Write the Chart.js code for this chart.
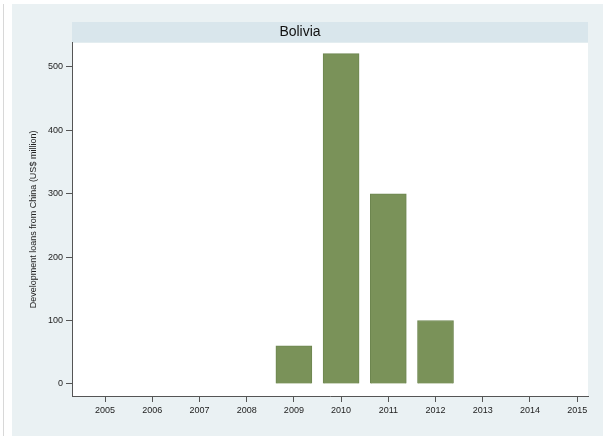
<!DOCTYPE html>
<html>
<head>
<meta charset="utf-8">
<script src="https://cdn.jsdelivr.net/npm/chart.js@4/dist/chart.umd.min.js"></script>
<style>
  html, body { margin:0; padding:0; background:#fff; }
  #wrap { width:603px; height:436px; position:relative; }
</style>
</head>
<body>
<div id="wrap"><canvas id="c" width="603" height="436"></canvas></div>
<script>
// data
const YEARS = [2005, 2006, 2007, 2008, 2009, 2010, 2011, 2012, 2013, 2014, 2015];
const LOANS = [0, 0, 0, 0, 60, 521, 300, 100, 0, 0, 0];
const Y_TICKS = [0, 100, 200, 300, 400, 500];
const COUNTRY = "Bolivia";
const Y_TITLE = "Development loans from China (US$ million)";

const PANEL = "#eaf1f3";
const STRIP = "#d9e6ec";
const BAR = "#7a9259";
const AXIS = "#555";

// background panel + title strip, drawn behind everything
const backdrop = {
  id: "backdrop",
  beforeDraw(chart){
    const {ctx, chartArea:a} = chart;
    ctx.save();
    ctx.fillStyle = "#fff";
    ctx.fillRect(0,0,chart.width,chart.height);
    ctx.fillStyle = "#d8d8d8";
    ctx.fillRect(3,4,1,chart.height-4);
    ctx.fillStyle = PANEL;
    ctx.fillRect(12,4,chart.width-12,chart.height-4);
    ctx.fillStyle = STRIP;
    ctx.fillRect(a.left,22,a.right-a.left,a.top-22);
    ctx.fillStyle = "#fff";
    ctx.fillRect(a.left,a.top,a.right-a.left,a.bottom-a.top);
    ctx.restore();
  }
};

new Chart(document.getElementById("c"), {
  type: "bar",
  data: {
    datasets: [{
      data: YEARS.map((y,i)=>({x:y, y:LOANS[i]})),
      backgroundColor: BAR,
      borderColor: "#6d8650",
      borderWidth: 1,
      barThickness: 36
    }]
  },
  plugins: [backdrop],
  options: {
    responsive: false,
    animation: false,
    layout: { padding: { left: 12, right: 15, top: 0, bottom: 0 } },
    plugins: {
      legend: { display:false },
      tooltip: { enabled:false },
      title: {
        display: true,
        text: COUNTRY,
        color: "#111",
        font: { family: "Arial, 'Liberation Sans', sans-serif", size: 14, weight: "normal" },
        padding: { top: 24, bottom: 2 }
      }
    },
    scales: {
      x: {
        type: "linear",
        offset: false,
        min: 2004.3,
        max: 2015.23,
        afterBuildTicks(s){ s.ticks = YEARS.map(v=>({value:v})); },
        afterFit(s){ s.height = 40; },
        grid: { display:true, offset:false, drawOnChartArea:false, drawTicks:true, tickLength:6, color:AXIS },
        border: { color:AXIS, width:1 },
        ticks: {
          color:"#222", padding:3, maxRotation:0, autoSkip:false,
          font:{ family:"Arial, 'Liberation Sans', sans-serif", size:9 },
          callback:v=>String(v)
        }
      },
      y: {
        min: -19,
        max: 538,
        afterBuildTicks(s){ s.ticks = Y_TICKS.map(v=>({value:v})); },
        afterFit(s){ s.width = 60; },
        grid: { display:true, drawOnChartArea:false, drawTicks:true, tickLength:6, color:AXIS },
        border: { color:AXIS, width:1 },
        title: {
          display:true, text:Y_TITLE, color:"#222",
          font:{ family:"Arial, 'Liberation Sans', sans-serif", size:9 },
          padding:{ top:16, bottom:0 }
        },
        ticks: {
          color:"#222", padding:3,
          font:{ family:"Arial, 'Liberation Sans', sans-serif", size:9 }
        }
      }
    }
  }
});
</script>
</body>
</html>
